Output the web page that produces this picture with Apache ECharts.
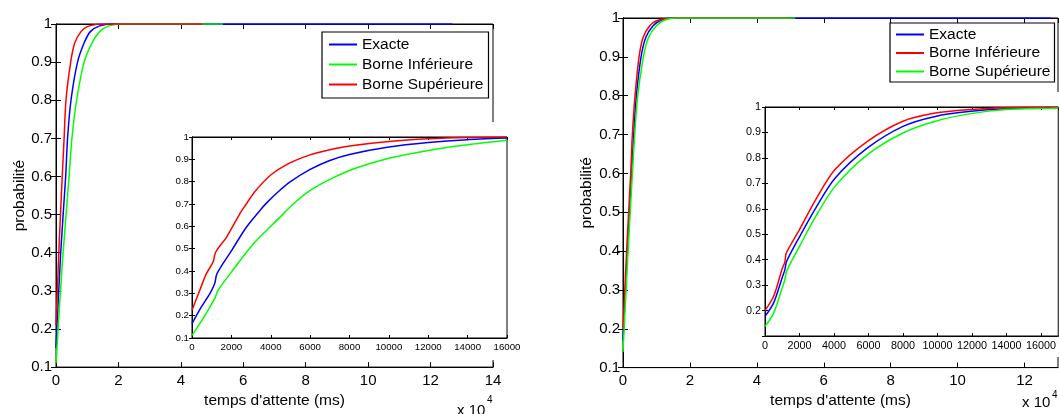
<!DOCTYPE html>
<html>
<head>
<meta charset="utf-8">
<script src="https://cdn.jsdelivr.net/npm/echarts@6/dist/echarts.min.js"></script>
<style>
  html, body { margin: 0; padding: 0; background: #fff; }
  #chart { width: 1059px; height: 414px; }
</style>
</head>
<body>
<div id="chart"></div>
<script>
// noms des courbes
const seriesNames = ['Exacte', 'Borne Inférieure', 'Borne Supérieure'];
const colorsLeft = ['#0000ff', '#00ff00', '#ff0000'];
const colorsRight = ['#0000ff', '#ff0000', '#00ff00'];

// tick labels
const yTicks = [0.1, 0.2, 0.3, 0.4, 0.5, 0.6, 0.7, 0.8, 0.9, 1];
const xTicksMain = [0, 2, 4, 6, 8, 10, 12, 14]; // x 10^4
const xTicksInset = [0, 2000, 4000, 6000, 8000, 10000, 12000, 14000, 16000];

// figure de gauche, [temps ms, probabilité]
const leftExacte = [[0,0.15],[1500,0.4],[3100,0.6],[3700,0.7],[4800,0.8],[6900,0.9],[9000,0.95],[11000,0.98],[14000,0.995],[18000,1],[127000,1]];
const leftInf = [[0,0.11],[2000,0.37],[4200,0.6],[5100,0.7],[6600,0.8],[9000,0.9],[11500,0.95],[14000,0.98],[17000,0.995],[21000,1],[53500,1]];
const leftSup = [[0,0.21],[1000,0.42],[2000,0.6],[2600,0.7],[3200,0.8],[4700,0.9],[6000,0.95],[8000,0.98],[10000,0.993],[13000,0.999],[16000,1],[47000,1]];

// zoom de gauche
const leftZoomExacte = [[0,0.164],[475,0.239],[900,0.298],[1150,0.343],[1270,0.388],[2000,0.49],[2760,0.596],[3440,0.67],[3790,0.705],[4380,0.755],[5000,0.8],[6000,0.855],[7000,0.895],[8000,0.922],[10000,0.955],[12000,0.975],[14000,0.988],[16000,0.995]];
const leftZoomInf = [[0,0.112],[560,0.187],[1150,0.276],[1320,0.313],[2000,0.395],[3100,0.52],[4460,0.64],[5140,0.7],[5990,0.76],[7000,0.81],[8000,0.85],[9000,0.88],[10000,0.905],[12000,0.94],[14000,0.965],[16000,0.985]];
const leftZoomSup = [[0,0.224],[390,0.313],[730,0.388],[1070,0.44],[1200,0.484],[1750,0.551],[2420,0.655],[2680,0.69],[3190,0.755],[4000,0.83],[5000,0.885],[6000,0.92],[7000,0.943],[8000,0.96],[10000,0.98],[12000,0.992],[14000,0.998],[16000,1]];

// figure de droite
const rightExacte = [[0,0.17],[1300,0.4],[2600,0.6],[3200,0.7],[4000,0.8],[5400,0.9],[6800,0.95],[9000,0.98],[11500,0.995],[15000,1],[128000,1]];
const rightInf = [[0,0.2],[1200,0.42],[2300,0.6],[2800,0.7],[3600,0.8],[4800,0.9],[6000,0.95],[8000,0.98],[10000,0.993],[13000,0.999],[16000,1],[50000,1]];
const rightSup = [[0,0.14],[1400,0.38],[2800,0.6],[3500,0.7],[4400,0.8],[6100,0.9],[7600,0.95],[10000,0.98],[12500,0.995],[16000,1],[51500,1]];

// zoom de droite
const rightZoomExacte = [[0,0.177],[500,0.23],[1000,0.33],[1150,0.36],[1250,0.393],[2000,0.49],[2940,0.603],[4060,0.72],[5940,0.839],[8000,0.924],[9870,0.963],[11940,0.983],[14000,0.993],[16570,0.997],[17000,0.998]];
const rightZoomInf = [[0,0.2],[500,0.256],[1000,0.365],[1150,0.39],[1230,0.425],[2000,0.518],[2940,0.636],[4060,0.754],[5940,0.865],[8000,0.944],[9870,0.976],[11940,0.99],[14000,0.997],[16570,1],[17000,1]];
const rightZoomSup = [[0,0.138],[500,0.19],[1000,0.29],[1150,0.32],[1250,0.354],[2000,0.452],[2940,0.57],[4060,0.688],[5940,0.813],[8000,0.898],[9870,0.944],[11940,0.974],[14000,0.99],[16570,0.995],[17000,0.996]];

const font = 'Liberation Sans';

// one plot = bottom/top x axes + left/right y axes
function makeAxes(gridIndex, xMax, opts) {
  const fs = opts.fontSize;
  const tick = { show: true, inside: true, length: opts.tickLen, lineStyle: { color: '#000' } };
  const line = { show: true, lineStyle: { color: '#000', width: 1 } };
  const x = {
    type: 'value', gridIndex: gridIndex, min: 0, max: xMax, interval: opts.xInterval,
    axisLine: line, axisTick: tick, splitLine: { show: false }, z: opts.z,
    axisLabel: {
      color: '#000', fontSize: fs, fontFamily: font, margin: opts.xMargin,
      showMaxLabel: opts.showMaxLabel,
      formatter: opts.xFormatter
    }
  };
  if (opts.xName) {
    x.name = opts.xName; x.nameLocation = 'middle'; x.nameGap = opts.xNameGap;
    x.nameTextStyle = { color: '#000', fontSize: 15.5, fontFamily: font };
  }
  const xTop = {
    type: 'value', gridIndex: gridIndex, position: 'top', min: 0, max: xMax, interval: opts.xInterval,
    axisLine: line, axisTick: tick, axisLabel: { show: false }, splitLine: { show: false }, z: opts.z
  };
  const y = {
    type: 'value', gridIndex: gridIndex, min: 0.1, max: 1, interval: 0.1,
    axisLine: line, axisTick: tick, splitLine: { show: false }, z: opts.z,
    axisLabel: { color: '#000', fontSize: fs, fontFamily: font, margin: opts.yMargin, showMinLabel: opts.showMinLabel }
  };
  if (opts.yName) {
    y.name = opts.yName; y.nameLocation = 'middle'; y.nameGap = opts.yNameGap;
    y.nameTextStyle = { color: '#000', fontSize: 15.5, fontFamily: font };
  }
  const yRight = {
    type: 'value', gridIndex: gridIndex, position: 'right', min: 0.1, max: 1, interval: 0.1,
    axisLine: line, axisTick: tick, axisLabel: { show: false }, splitLine: { show: false }, z: opts.z
  };
  return { x: [x, xTop], y: [y, yRight] };
}

const mainFmt = v => String(v / 10000);
const plainFmt = v => String(v);

const a0 = makeAxes(0, 140000, { fontSize: 15, tickLen: 5, xInterval: 20000, xMargin: 6, yMargin: 4, z: 1,
  xFormatter: mainFmt, showMaxLabel: true, showMinLabel: true,
  xName: "temps d'attente (ms)", xNameGap: 21, yName: 'probabilité', yNameGap: 28 });
const a1 = makeAxes(1, 16000, { fontSize: 9.7, tickLen: 3, xInterval: 2000, xMargin: 4, yMargin: 3, z: 20,
  xFormatter: plainFmt, showMaxLabel: true, showMinLabel: true });
const a2 = makeAxes(2, 130000, { fontSize: 15, tickLen: 5, xInterval: 20000, xMargin: 5.5, yMargin: 3, z: 1,
  xFormatter: mainFmt, showMaxLabel: false, showMinLabel: true,
  xName: "temps d'attente (ms)", xNameGap: 22, yName: 'probabilité', yNameGap: 28 });
const a3 = makeAxes(3, 17000, { fontSize: 10.8, tickLen: 3, xInterval: 2000, xMargin: 4.5, yMargin: 4, z: 20,
  xFormatter: plainFmt, showMaxLabel: false, showMinLabel: false });

function lines(sets, colors, xIdx, yIdx, z) {
  return sets.map((d, i) => ({
    name: seriesNames[i],
    type: 'line',
    xAxisIndex: xIdx, yAxisIndex: yIdx,
    data: d,
    showSymbol: false,
    smooth: 0.3,
    lineStyle: { color: colors[i], width: 1.5 },
    itemStyle: { color: colors[i] },
    z: z + i,
    silent: true,
    animation: false
  }));
}

function legendFor(colors, left, top, gap, pad) {
  return {
    orient: 'vertical', left: left, top: top,
    selectedMode: false,
    icon: 'rect', itemWidth: 28, itemHeight: 2, itemGap: gap,
    padding: pad,
    borderColor: '#000', borderWidth: 1.2, backgroundColor: '#fff',
    textStyle: { color: '#000', fontSize: 15.5, fontFamily: font, lineHeight: 17 },
    data: seriesNames.map((n, i) => ({ name: n, itemStyle: { color: colors[i] } })),
    z: 30
  };
}

const chart = echarts.init(document.getElementById('chart'));
chart.setOption({
  animation: false,
  grid: [
    { left: 56, top: 24, width: 437, height: 350, show: true, borderColor: '#000', borderWidth: 1, z: 0 },
    { left: 192, top: 137, width: 315, height: 201, show: true, borderColor: '#000', borderWidth: 1, backgroundColor: '#fff', z: 16 },
    { left: 623, top: 18, width: 435, height: 350, show: true, borderColor: '#000', borderWidth: 1, z: 0 },
    { left: 765, top: 107, width: 301, height: 229, show: true, borderColor: '#000', borderWidth: 1, backgroundColor: '#fff', z: 16 }
  ],
  xAxis: [].concat(a0.x, a1.x, a2.x, a3.x),
  yAxis: [].concat(a0.y, a1.y, a2.y, a3.y),
  legend: [
    legendFor(colorsLeft, 322, 32, 3, [4, 5, 5, 7]),
    legendFor(colorsRight, 890, 23, 1.5, [3, 4, 2, 6])
  ],
  graphic: [
    // fond blanc des zooms
    { type: 'rect', z: 15, shape: { x: 165, y: 122, width: 355, height: 238 }, style: { fill: '#fff' } },
    { type: 'rect', z: 15, shape: { x: 740, y: 92, width: 319, height: 265 }, style: { fill: '#fff' } },
    { type: 'text', z: 30, left: 457, top: 403, style: { text: 'x 10', font: '15px "Liberation Sans"', fill: '#000' } },
    { type: 'text', z: 30, left: 487, top: 395, style: { text: '4', font: '10px "Liberation Sans"', fill: '#000' } },
    { type: 'text', z: 30, left: 1022, top: 395, style: { text: 'x 10', font: '15px "Liberation Sans"', fill: '#000' } },
    { type: 'text', z: 30, left: 1052, top: 390, style: { text: '4', font: '10px "Liberation Sans"', fill: '#000' } }
  ],
  series: [].concat(
    lines([leftExacte, leftInf, leftSup], colorsLeft, 0, 0, 2),
    lines([leftZoomExacte, leftZoomInf, leftZoomSup], colorsLeft, 2, 2, 21),
    lines([rightExacte, rightInf, rightSup], colorsRight, 4, 4, 2),
    lines([rightZoomExacte, rightZoomInf, rightZoomSup], colorsRight, 6, 6, 21)
  )
});
</script>
</body>
</html>
